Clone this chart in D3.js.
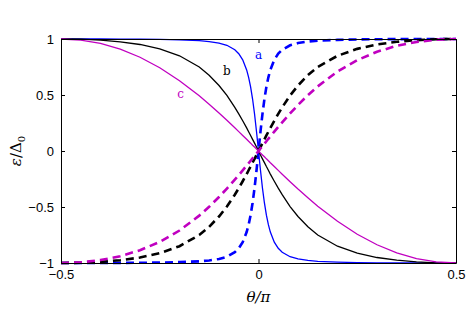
<!DOCTYPE html>
<html>
<head>
<meta charset="utf-8">
<script src="https://cdn.jsdelivr.net/npm/d3@7"></script>
<style>
  body { margin: 0; background: #fff; }
  .tick text { font-family: "Liberation Sans", Arial, sans-serif; font-size: 13px; fill: #000; }
</style>
</head>
<body>
<div class="chart"></div>
<script>
var svgWidth = 472;
var svgHeight = 322;

var margin = { top: 39, right: 16, bottom: 59, left: 61 };

var width = svgWidth - margin.left - margin.right;
var height = svgHeight - margin.top - margin.bottom;

// theta / pi sample points
var theta = [-0.5, -0.45, -0.4, -0.35, -0.3, -0.25, -0.2, -0.15, -0.125, -0.1, -0.08, -0.06, -0.05, -0.04, -0.03, -0.025, -0.02, -0.015, -0.01, -0.005,
  0, 0.005, 0.01, 0.015, 0.02, 0.025, 0.03, 0.04, 0.05, 0.06, 0.08, 0.1, 0.125, 0.15, 0.2, 0.25, 0.3, 0.35, 0.4, 0.45, 0.5];

// solid curves
var aSolid = [1, 1, 1, 0.999, 0.998, 0.996, 0.992, 0.985, 0.977, 0.964, 0.944, 0.904, 0.869, 0.814, 0.724, 0.658, 0.573, 0.464, 0.330, 0.172,
  0, -0.172, -0.330, -0.464, -0.573, -0.658, -0.724, -0.814, -0.869, -0.904, -0.944, -0.964, -0.977, -0.985, -0.992, -0.996, -0.998, -0.999, -1, -1, -1];
var bSolid = [1, 0.998, 0.990, 0.975, 0.951, 0.912, 0.850, 0.750, 0.677, 0.585, 0.496, 0.390, 0.332, 0.270, 0.206, 0.172, 0.139, 0.104, 0.070, 0.035,
  0, -0.035, -0.070, -0.104, -0.139, -0.172, -0.206, -0.270, -0.332, -0.390, -0.496, -0.585, -0.677, -0.750, -0.850, -0.912, -0.951, -0.975, -0.990, -0.998, -1];
var cSolid = [1, 0.990, 0.960, 0.909, 0.837, 0.743, 0.628, 0.493, 0.418, 0.340, 0.274, 0.207, 0.173, 0.139, 0.105, 0.087, 0.070, 0.052, 0.035, 0.018,
  0, -0.018, -0.035, -0.052, -0.070, -0.087, -0.105, -0.139, -0.173, -0.207, -0.274, -0.340, -0.418, -0.493, -0.628, -0.743, -0.837, -0.909, -0.960, -0.990, -1];

// dashed curves
var aDashed = [-1, -1, -1, -0.999, -0.998, -0.996, -0.992, -0.985, -0.977, -0.964, -0.944, -0.904, -0.869, -0.814, -0.724, -0.658, -0.573, -0.464, -0.330, -0.172,
  0, 0.172, 0.330, 0.464, 0.573, 0.658, 0.724, 0.814, 0.869, 0.904, 0.944, 0.964, 0.977, 0.985, 0.992, 0.996, 0.998, 0.999, 1, 1, 1];
var bDashed = [-1, -0.998, -0.990, -0.975, -0.951, -0.912, -0.850, -0.750, -0.677, -0.585, -0.496, -0.390, -0.332, -0.270, -0.206, -0.172, -0.139, -0.104, -0.070, -0.035,
  0, 0.035, 0.070, 0.104, 0.139, 0.172, 0.206, 0.270, 0.332, 0.390, 0.496, 0.585, 0.677, 0.750, 0.850, 0.912, 0.951, 0.975, 0.990, 0.998, 1];
var cDashed = [-1, -0.994, -0.974, -0.939, -0.886, -0.811, -0.710, -0.577, -0.498, -0.411, -0.335, -0.256, -0.215, -0.173, -0.130, -0.109, -0.087, -0.065, -0.044, -0.022,
  0, 0.022, 0.044, 0.065, 0.087, 0.109, 0.130, 0.173, 0.215, 0.256, 0.335, 0.411, 0.498, 0.577, 0.710, 0.811, 0.886, 0.939, 0.974, 0.994, 1];

var xTicks = [-0.5, 0, 0.5];
var yTicks = [-1, -0.5, 0, 0.5, 1];

var labels = [
  { text: "a", x: 0.0, y: 0.82, color: "#0000ff" },
  { text: "b", x: -0.08, y: 0.68, color: "#000000" },
  { text: "c", x: -0.197, y: 0.47, color: "#c000c0" }
];

var svg = d3.select(".chart")
  .append("svg")
  .attr("width", svgWidth)
  .attr("height", svgHeight);

var chartGroup = svg.append("g")
  .attr("transform", `translate(${margin.left}, ${margin.top})`);

var xScale = d3.scaleLinear().domain([-0.5, 0.5]).range([0, width]);
var yScale = d3.scaleLinear().domain([-1, 1]).range([height, 0]);

var line = d3.line()
  .x(d => xScale(d[0]))
  .y(d => yScale(d[1]));

function drawCurve(values, color, dashed) {
  var pts = theta.map((t, i) => [t, values[i]]);
  chartGroup.append("path")
    .datum(pts)
    .attr("d", line)
    .attr("fill", "none")
    .attr("stroke", color)
    .attr("stroke-width", dashed ? 2.6 : 1.3)
    .attr("stroke-dasharray", dashed ? "8,5" : null);
}

drawCurve(aSolid, "#0000ff", false);
drawCurve(aDashed, "#0000ff", true);
drawCurve(bSolid, "#000000", false);
drawCurve(bDashed, "#000000", true);
drawCurve(cSolid, "#c000c0", false);
drawCurve(cDashed, "#c000c0", true);

// curve labels
chartGroup.selectAll(".curve-label")
  .data(labels)
  .enter()
  .append("text")
  .attr("class", "curve-label")
  .attr("x", d => xScale(d.x))
  .attr("y", d => yScale(d.y))
  .attr("text-anchor", "middle")
  .attr("font-family", "'DejaVu Serif', 'Liberation Serif', serif")
  .attr("font-size", "12px")
  .attr("fill", d => d.color)
  .text(d => d.text);

// axes, ticks pointing inward
var fmt = d3.format("");
chartGroup.append("g")
  .attr("transform", `translate(0, ${height})`)
  .call(d3.axisBottom(xScale).tickValues(xTicks).tickFormat(fmt).tickSizeInner(-4).tickSizeOuter(0).tickPadding(7));
chartGroup.append("g")
  .call(d3.axisLeft(yScale).tickValues(yTicks).tickFormat(fmt).tickSizeInner(-4).tickSizeOuter(0).tickPadding(7));
chartGroup.append("g")
  .call(d3.axisTop(xScale).tickValues(xTicks).tickFormat("").tickSizeInner(-4).tickSizeOuter(0));
chartGroup.append("g")
  .attr("transform", `translate(${width}, 0)`)
  .call(d3.axisRight(yScale).tickValues(yTicks).tickFormat("").tickSizeInner(-4).tickSizeOuter(0));

chartGroup.selectAll(".domain").attr("stroke", "#000");

// x label
chartGroup.append("text")
  .attr("x", xScale(0))
  .attr("y", height + 39)
  .attr("text-anchor", "middle")
  .attr("font-family", "'DejaVu Serif', 'Liberation Serif', serif")
  .attr("font-size", "15px")
  .attr("font-style", "italic")
  .text("θ/π");

// y label
var yLab = svg.append("text")
  .attr("transform", `translate(21, ${margin.top + yScale(0)}) rotate(-90)`)
  .attr("text-anchor", "middle")
  .attr("font-family", "'DejaVu Serif', 'Liberation Serif', serif")
  .attr("font-size", "15px");
yLab.append("tspan").attr("font-style", "italic").text("ε");
yLab.append("tspan").text("/Δ");
yLab.append("tspan").attr("font-size", "10px").attr("dy", 4).text("0");
</script>
</body>
</html>
